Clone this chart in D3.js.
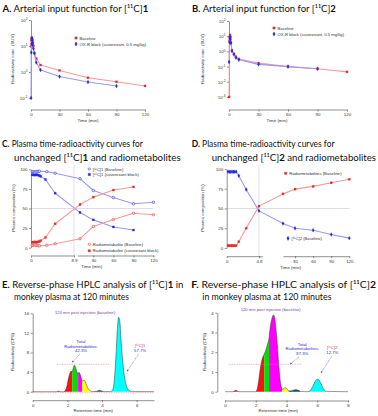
<!DOCTYPE html>
<html><head><meta charset="utf-8">
<script src="https://cdn.jsdelivr.net/npm/d3@7"></script>
<style>body{margin:0;background:#fff}svg{display:block}</style>
</head><body><svg id="c" width="378" height="416"></svg>
<script>
// ---------- DATA ----------
// Panel A: arterial input function [11C]1 (SUV)
const timeA1 = [0.25, 0.5, 0.75, 1, 1.25, 1.5, 2, 2.5, 3.5, 5.5, 10, 30, 60, 90, 120];
const baseA  = [9.5, 16, 21, 20, 18, 16, 13, 10, 5.5, 3.3, 1.85, 1.15, 0.6, 0.42, 0.29];
const timeA2 = [0.1, 0.25, 0.5, 0.75, 1, 1.25, 1.5, 2, 2.5, 3.5, 5.5, 10, 30, 60, 90];
const blockA = [0.1, 5.6, 12, 18, 20, 17, 14, 11, 8, 5.2, 2.3, 1.2, 0.67, 0.41, 0.29];
// Panel B: arterial input function [11C]2 (SUV)
const timeB1 = [0.1, 0.5, 0.75, 1, 1.5, 2, 3, 5, 7, 10, 30, 60, 90, 120];
const baseB  = [0.001, 5, 9, 12, 9, 3.8, 1.2, 0.7, 0.45, 0.32, 0.17, 0.1, 0.072, 0.045];
const timeB2 = [0.1, 0.5, 0.75, 1, 1.5, 2, 3, 5, 7, 10, 30, 60, 90];
const blockB = [0.2, 4, 7, 9, 6.2, 3.6, 1.05, 0.62, 0.38, 0.28, 0.14, 0.1, 0.072];
const logTicksA = [0.1, 1, 10, 100];
const logTicksB = [0.001, 0.01, 0.1, 1, 10, 100];
const timeTicks = [0, 30, 60, 90, 120];
// Panel C: plasma composition [11C]1 (%)
const timeC1   = [0.25, 0.5, 0.75, 1, 1.25, 1.5, 1.75, 3.25, 5, 10, 30, 60, 90, 120];
const parentC1 = [97, 97, 96.5, 97, 97, 97.5, 97.5, 97, 95, 88, 73, 64, 56, 58];
const metabC1  = [3, 3, 3.5, 3, 3, 2.5, 2.5, 3, 5, 11.5, 27, 36, 44, 42];
const timeC2   = [0.25, 0.5, 0.75, 1, 1.25, 1.5, 1.75, 2, 3, 5, 10, 30, 60, 90];
const parentC2 = [93, 93, 92.5, 93, 93, 92.5, 92, 91, 87, 69.5, 45, 35.5, 26.5, 22.5];
const metabC2  = [7, 7, 7.5, 7, 7, 7.5, 8, 9, 13, 30.5, 55, 64.5, 73.5, 77.5];
const crossC = 8.9;
// Panel D: plasma composition [11C]2 (%)
const timeD   = [0.2, 0.4, 0.6, 0.8, 1, 1.2, 1.4, 1.8, 2.9, 4.8, 10, 30, 60, 90, 120];
const parentD = [96.5, 96.5, 96.5, 96.5, 96.5, 96.5, 96.5, 91.5, 74, 47, 31, 25, 22.5, 17, 12.5];
const metabD  = [3, 3, 3, 3, 3, 3, 3, 8, 25, 53, 68.5, 74.5, 78, 82.5, 87];
const crossD = 4.8;
const pctTicks = [0, 25, 50, 75, 100];
// Panel E: HPLC [11C]1 (retention time min, CPS)
const traceE = [[0,0],[1.4,0],[1.5,0.12],[1.6,0],[1.8,0],[1.95,0.8],[2.05,2.5],[2.15,3.8],[2.22,4.2],[2.28,4.0],[2.34,4.8],[2.4,5.4],[2.47,5.0],[2.55,4.0],[2.62,3.7],[2.67,3.95],[2.73,3.6],[2.8,2.8],[2.86,2.1],[2.92,2.3],[2.98,2.35],[3.05,1.9],[3.15,1.0],[3.25,0.4],[3.35,0.1],[3.5,0.03],[3.7,0.1],[3.85,0.3],[3.95,0.2],[4.1,0.03],[4.5,0.03],[4.6,0.3],[4.7,2],[4.8,7],[4.9,13.5],[4.96,15.2],[5.02,14.6],[5.1,10.5],[5.2,6],[5.3,3],[5.4,1.3],[5.5,0.5],[5.6,0.2],[5.7,0.03],[7,0.02]];
const peaksE = [[1.4,1.6],[1.8,2.28],[2.28,2.62],[2.62,2.86],[2.86,3.35],[3.5,4.1],[4.5,5.7]];
const metabTotalE = "42.3%", parentE = "57.7%";
// Panel F: HPLC [11C]2
const traceF = [[0,0],[0.5,0],[0.6,0.04],[0.7,0.07],[0.8,0.04],[0.9,0],[2.0,0],[2.1,0.15],[2.2,0.6],[2.3,1.2],[2.4,1.6],[2.55,1.9],[2.65,2.1],[2.75,2.35],[2.86,2.7],[2.95,3.3],[3.05,3.7],[3.15,3.88],[3.22,3.8],[3.3,3.3],[3.4,2.4],[3.5,1.3],[3.6,0.5],[3.72,0.12],[3.85,0.17],[3.95,0.2],[4.05,0.13],[4.15,0.04],[4.35,0.05],[4.55,0.1],[4.75,0.08],[4.9,0.02],[5.4,0],[5.55,0.06],[5.7,0.25],[5.85,0.5],[6.0,0.63],[6.1,0.6],[6.25,0.4],[6.4,0.15],[6.55,0.02],[8,0]];
const peaksF = [[0.5,0.9],[2.0,2.55],[2.55,2.86],[2.86,3.72],[3.72,4.15],[4.15,4.9],[5.4,6.55]];
const metabTotalF = "87.3%", parentF = "12.7%";
const peakColors = ["#ff1010","#ff1010","#00e000","#ff00ff","#ffff00","#0a5c5c","#00ffff"];
const cpsTicksE = [0, 4, 8, 12, 16], rtTicksE = [0, 2, 4, 6];
const cpsTicksF = [0, 1, 2, 3, 4],   rtTicksF = [0, 2, 4, 6, 8];

// ---------- HELPERS ----------
const svg = d3.select('#c');
const SF = "'Liberation Sans', Arial, sans-serif";
const TF = "Lato, 'Open Sans', sans-serif";
const RED = "#e82828", BLUE = "#2626e0", LRED = "#f59a9a", LBLUE = "#9a9af2";

function title(x, y, parts, width) {
  const t = svg.append('text').attr('x', 0).attr('y', 0).attr('font-family', TF)
    .attr('font-size', 10).attr('fill', '#111');
  parts.forEach(p => t.append('tspan').attr('font-weight', p[1] ? 700 : 400).text(p[0]));
  const w = t.node().getComputedTextLength();
  t.attr('transform', `translate(${x},${y}) scale(${width / w},1)`);
}
function styleAxis(g) {
  g.select('.domain').attr('stroke', '#444').attr('stroke-width', 0.6);
  g.selectAll('.tick line').attr('stroke', '#444').attr('stroke-width', 0.6);
  g.selectAll('text').attr('font-family', SF).attr('font-size', 4.4).attr('fill', '#333');
}
function yAxis(scale, ticks, x, fmt) {
  const g = svg.append('g').attr('transform', `translate(${x},0)`)
    .call(d3.axisLeft(scale).tickValues(ticks).tickSize(2).tickSizeOuter(0).tickPadding(1.5).tickFormat(fmt || (d => d)));
  styleAxis(g); return g;
}
function xAxis(scale, ticks, y, fmt) {
  const g = svg.append('g').attr('transform', `translate(0,${y})`)
    .call(d3.axisBottom(scale).tickValues(ticks).tickSize(2).tickSizeOuter(0).tickPadding(1.2).tickFormat(fmt || (d => d)));
  styleAxis(g); return g;
}
function logLabels(g) {
  g.selectAll('.tick text').each(function (d) {
    const e = Math.round(Math.log10(d));
    const s = d3.select(this); s.text('10');
    s.append('tspan').attr('dy', -1.8).attr('font-size', 3.2).text(e);
  });
}
function label(x, y, txt, opts = {}) {
  const t = svg.append('text').attr('x', x).attr('y', y).attr('font-family', SF)
    .attr('font-size', opts.size || 4.4).attr('fill', opts.fill || '#333')
    .attr('text-anchor', opts.anchor || 'middle').text(txt);
  if (opts.rot) t.attr('transform', `rotate(-90,${x},${y})`);
  return t;
}
function series(xs, ys, sx, sy, lineCol, markCol, sym, open, lw) {
  const pts = xs.map((t, i) => [sx(t), sy(ys[i])]);
  svg.append('path').attr('d', d3.line()(pts)).attr('fill', 'none')
    .attr('stroke', lineCol).attr('stroke-width', lw || 1.1).attr('stroke-linejoin', 'round');
  const s = d3.symbol().type(sym).size(sym === d3.symbolCircle ? 5 : 4.5);
  svg.append('g').selectAll('path').data(pts).join('path')
    .attr('transform', d => `translate(${d[0]},${d[1]})`).attr('d', s())
    .attr('fill', open ? (markCol === RED ? '#ffd0d0' : '#d8d8ff') : markCol).attr('stroke', markCol).attr('stroke-width', open ? 0.5 : 0.2);
}
function legendItem(x, y, sym, col, txt, open) {
  svg.append('path').attr('transform', `translate(${x},${y})`).attr('d', d3.symbol().type(sym).size(5)())
    .attr('fill', open ? (col === RED ? '#ffd0d0' : '#d8d8ff') : col).attr('stroke', col).attr('stroke-width', 0.4);
  svg.append('text').attr('x', x + 3.5).attr('y', y + 1.5).attr('font-family', SF).attr('font-size', 4.2)
    .attr('fill', '#333').text(txt);
}

// ---------- PANEL A ----------
title(2.5, 11.5, [['A.', 1], [' Arterial input function for [¹¹C]', 0], ['1', 1]], 146);
{
  const x = d3.scaleLinear().domain([0, 120]).range([31, 145]);
  const y = d3.scaleLog().domain([0.1, 100]).range([98, 20]);
  logLabels(yAxis(y, logTicksA, 31));
  xAxis(x, timeTicks, 109.5);
  label(88, 121.5, 'Time (min)');
  label(13.5, 59, 'Radioactivity conc. (SUV)', { rot: 1 });
  series(timeA1, baseA, x, y, LRED, RED, d3.symbolSquare);
  series(timeA2, blockA, x, y, LBLUE, BLUE, d3.symbolDiamond);
  legendItem(76, 38, d3.symbolSquare, RED, 'Baseline');
  legendItem(76, 44, d3.symbolDiamond, BLUE, 'OX₁R block (suvorexant, 0.5 mg/kg)');
}
// ---------- PANEL B ----------
title(192, 11.5, [['B.', 1], [' Arterial input function for [¹¹C]', 0], ['2', 1]], 144);
{
  const x = d3.scaleLinear().domain([0, 120]).range([229, 347]);
  const y = d3.scaleLog().domain([0.001, 100]).range([97, 21]);
  logLabels(yAxis(y, logTicksB, 229));
  xAxis(x, timeTicks, 109.5);
  label(277, 121.5, 'Time (min)');
  label(204, 59, 'Radioactivity conc. (SUV)', { rot: 1 });
  series(timeB1, baseB, x, y, LRED, RED, d3.symbolSquare);
  series(timeB2, blockB, x, y, LBLUE, BLUE, d3.symbolDiamond);
  legendItem(274, 28, d3.symbolSquare, RED, 'Baseline');
  legendItem(274, 34, d3.symbolDiamond, BLUE, 'OX₁R block (suvorexant, 0.5 mg/kg)');
}
// ---------- PANEL C ----------
title(2, 147, [['C.', 1], [' Plasma time-radioactivity curves for', 0]], 141);
title(14, 160.5, [['unchanged [¹¹C]', 0], ['1', 1], [' and radiometabolites', 0]], 167);
{
  const s1 = d3.scaleLinear().domain([0, crossC]).range([31, 74]);
  const s2 = d3.scaleLinear().domain([6, 120]).range([77.3, 153.5]);
  const x = t => t <= crossC ? s1(t) : s2(t);
  const y = d3.scaleLinear().domain([0, 100]).range([247.7, 169.3]);
  svg.append('line').attr('x1', 31).attr('x2', 153.5).attr('y1', y(50)).attr('y2', y(50))
    .attr('stroke', '#c4c8e0').attr('stroke-width', 0.6);
  svg.append('line').attr('x1', s1(crossC)).attr('x2', s1(crossC)).attr('y1', 165).attr('y2', 256)
    .attr('stroke', '#c4c8e0').attr('stroke-width', 0.6);
  yAxis(y, pctTicks, 31);
  xAxis(s1, [0, crossC], 255.5);
  xAxis(s2, [30, 60, 90, 120], 255.5);
  label(91.7, 267.8, 'Time (min)');
  label(15, 208, 'Plasma composition (%)', { rot: 1 });
  series(timeC1, parentC1, x, y, LBLUE, BLUE, d3.symbolCircle, true);
  series(timeC2, parentC2, x, y, LBLUE, BLUE, d3.symbolSquare);
  series(timeC1, metabC1, x, y, LRED, RED, d3.symbolCircle, true);
  series(timeC2, metabC2, x, y, LRED, RED, d3.symbolSquare);
  legendItem(89.3, 169, d3.symbolCircle, BLUE, '[¹¹C]1 (Baseline)', true);
  legendItem(89.3, 174.5, d3.symbolSquare, BLUE, '[¹¹C]1 (suvorexant block)');
  legendItem(89.3, 244.3, d3.symbolCircle, RED, 'Radiometabolite (Baseline)', true);
  legendItem(89.3, 250.8, d3.symbolSquare, RED, 'Radiometabolite (suvorexant block)');
}
// ---------- PANEL D ----------
title(191.7, 147, [['D.', 1], [' Plasma time-radioactivity curves for', 0]], 143);
title(211.7, 160.5, [['unchanged [¹¹C]', 0], ['2', 1], [' and radiometabolites', 0]], 164.5);
{
  const s1 = d3.scaleLinear().domain([0, 5.3]).range([226.7, 262.3]);
  const s2 = d3.scaleLinear().domain([10, 120]).range([283, 349.3]);
  const x = t => t <= 5.3 ? s1(t) : s2(t);
  const y = d3.scaleLinear().domain([0, 100]).range([248, 169]);
  svg.append('line').attr('x1', 226.7).attr('x2', 349.3).attr('y1', y(50)).attr('y2', y(50))
    .attr('stroke', '#c4c8e0').attr('stroke-width', 0.6);
  svg.append('line').attr('x1', s1(crossD)).attr('x2', s1(crossD)).attr('y1', 165).attr('y2', 256.7)
    .attr('stroke', '#c4c8e0').attr('stroke-width', 0.6);
  yAxis(y, pctTicks, 226.7);
  xAxis(s1, [0, crossD], 256.2);
  xAxis(s2, [30, 60, 90, 120], 256.2);
  label(290.7, 268.5, 'Time (min)');
  label(204, 208, 'Plasma composition (%)', { rot: 1 });
  series(timeD, parentD, x, y, LBLUE, BLUE, d3.symbolDiamond);
  series(timeD, metabD, x, y, LRED, RED, d3.symbolSquare);
  legendItem(285.7, 173.3, d3.symbolSquare, RED, 'Radiometabolites (Baseline)');
  legendItem(288, 238.3, d3.symbolDiamond, BLUE, '[¹¹C]2 (Baseline)');
}
// ---------- HPLC ----------
function arrow(x1, y1, x2, y2) {
  svg.append('line').attr('x1', x1).attr('y1', y1).attr('x2', x2).attr('y2', y2)
    .attr('stroke', '#3a3ad0').attr('stroke-width', 0.5).attr('stroke-dasharray', '1,0.6');
  const a = Math.atan2(y2 - y1, x2 - x1), L = 2;
  svg.append('path').attr('d', `M${x2},${y2}L${x2 - L * Math.cos(a - 0.45)},${y2 - L * Math.sin(a - 0.45)}L${x2 - L * Math.cos(a + 0.45)},${y2 - L * Math.sin(a + 0.45)}Z`)
    .attr('fill', '#3a3ad0');
}
function hplc(trace, peaks, x, y) {
  const area = d3.area().x(d => x(d[0])).y0(y(0)).y1(d => y(d[1])).curve(d3.curveMonotoneX);
  peaks.forEach((p, i) => {
    const pts = trace.filter(d => d[0] >= p[0] && d[0] <= p[1]);
    svg.append('path').attr('d', area(pts)).attr('fill', peakColors[i]);
  });
  svg.append('path').attr('d', d3.line().x(d => x(d[0])).y(d => y(d[1])).curve(d3.curveMonotoneX)(trace))
    .attr('fill', 'none').attr('stroke', '#333').attr('stroke-width', 0.5);
}
title(2, 288, [['E.', 1], [' Reverse-phase HPLC analysis of [¹¹C]', 0], ['1', 1], [' in', 0]], 181.7);
title(14, 299.5, [['monkey plasma at 120 minutes', 0]], 115);
{
  const x = d3.scaleLinear().domain([0, 7]).range([32.7, 154]);
  const y = d3.scaleLinear().domain([0, 16]).range([391.7, 313.3]);
  yAxis(y, cpsTicksE, 32.7);
  xAxis(x, rtTicksE, 400.2);
  label(93.3, 412.3, 'Retention time (min)');
  label(13.5, 352, 'Radioactivity (CPS)', { rot: 1 });
  svg.append('line').attr('x1', x(0)).attr('x2', x(7)).attr('y1', y(0) + 1).attr('y2', y(0) + 1)
    .attr('stroke', '#f08080').attr('stroke-width', 0.6).attr('stroke-dasharray', '1,0.7');
  hplc(traceE, peaksE, x, y);
  svg.append('line').attr('x1', x(1.4)).attr('x2', x(4.45)).attr('y1', y(5.6)).attr('y2', y(5.6))
    .attr('stroke', '#f08080').attr('stroke-width', 0.6).attr('stroke-dasharray', '1,0.7');
  label(85, 314, '120  min post injection (baseline)', { fill: '#8040b0', size: 4.2 });
  label(81, 343, 'Total', { fill: '#3030c0', size: 4.2 });
  label(81, 347.5, 'Radiometabolites:', { fill: '#3030c0', size: 4.2 });
  label(81, 352, metabTotalE, { fill: '#3030c0', size: 4.2 });
  arrow(80, 354, 72, 362.5);
  label(140, 347, '[¹¹C]1', { fill: '#e03060', size: 4.2 });
  label(140, 351.5, parentE, { fill: '#3030c0', size: 4.2 });
  arrow(138.5, 354, 127, 371.5);
}
title(191.3, 288, [['F.', 1], [' Reverse-phase HPLC analysis of [¹¹C]', 0], ['2', 1]], 185);
title(202.3, 299.5, [['in monkey plasma at 120 minutes', 0]], 129.4);
{
  const x = d3.scaleLinear().domain([0, 8]).range([225, 348]);
  const y = d3.scaleLinear().domain([0, 4]).range([391.7, 312.7]);
  yAxis(y, cpsTicksF, 217.3);
  xAxis(x, rtTicksF, 400.5);
  label(278.3, 412.3, 'Retention time (min)');
  label(206, 352, 'Radioactivity (CPS)', { rot: 1 });
  hplc(traceF, peaksF, x, y);
  svg.append('line').attr('x1', x(0.25)).attr('x2', x(5.0)).attr('y1', y(1.39)).attr('y2', y(1.39))
    .attr('stroke', '#f08080').attr('stroke-width', 0.6).attr('stroke-dasharray', '1,0.7');
  label(270.7, 311, '120  min post injection (baseline)', { fill: '#8040b0', size: 4.2 });
  label(302.3, 345.5, 'Total', { fill: '#3030c0', size: 4.2 });
  label(302.3, 350, 'Radiometabolites:', { fill: '#3030c0', size: 4.2 });
  label(302.3, 354.5, metabTotalF, { fill: '#3030c0', size: 4.2 });
  arrow(299, 357, 290, 364.3);
  label(332.3, 349, '[¹¹C]2', { fill: '#e03060', size: 4.2 });
  label(332.3, 353.5, parentF, { fill: '#3030c0', size: 4.2 });
  arrow(332, 356, 321, 373);
}
</script></body></html>
